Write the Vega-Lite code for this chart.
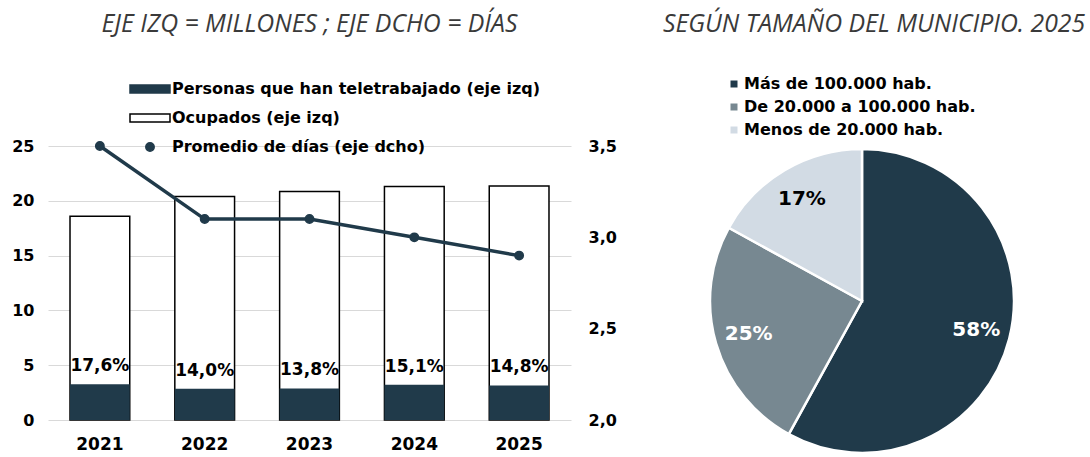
{
  "$schema": "https://vega.github.io/schema/vega-lite/v6.json",
  "background": "white",
  "padding": {"left": 11, "top": 12, "right": 0, "bottom": 0},
  "config": {
    "view": {"stroke": null},
    "font": "DejaVu Sans",
    "axis": {"labelFont": "DejaVu Sans", "labelFontWeight": "bold", "labelColor": "black"},
    "legend": {"labelFont": "DejaVu Sans", "labelFontWeight": "bold", "labelColor": "black"}
  },
  "datasets": {
    "anual": [
      {"year": "2021", "ocupados": 18.6, "teletrabajo": 3.27, "pct": "17,6%", "dias": 3.5},
      {"year": "2022", "ocupados": 20.4, "teletrabajo": 2.86, "pct": "14,0%", "dias": 3.1},
      {"year": "2023", "ocupados": 20.85, "teletrabajo": 2.88, "pct": "13,8%", "dias": 3.1},
      {"year": "2024", "ocupados": 21.3, "teletrabajo": 3.22, "pct": "15,1%", "dias": 3.0},
      {"year": "2025", "ocupados": 21.35, "teletrabajo": 3.15, "pct": "14,8%", "dias": 2.9}
    ],
    "municipio": [
      {"cat": "Más de 100.000 hab.", "pct": 58, "etiqueta": "58%", "orden": 1},
      {"cat": "De 20.000 a 100.000 hab.", "pct": 25, "etiqueta": "25%", "orden": 2},
      {"cat": "Menos de 20.000 hab.", "pct": 17, "etiqueta": "17%", "orden": 3}
    ]
  },
  "bounds": "flush",
  "spacing": 131,
  "resolve": {
    "scale": {"color": "independent", "stroke": "independent", "shape": "independent"},
    "legend": {"color": "independent", "stroke": "independent", "shape": "independent"}
  },
  "hconcat": [
    {
      "width": 523,
      "height": 274,
      "title": {"text": "EJE IZQ = MILLONES ; EJE DCHO = DÍAS", "font": "Open Sans", "fontStyle": "italic", "fontWeight": "normal", "fontSize": 24.8, "color": "#3a3a3a", "anchor": "middle", "offset": 41},
      "data": {"name": "anual"},
      "resolve": {"scale": {"y": "independent"}},
      "layer": [
        {
          "layer": [
            {
              "mark": {"type": "bar", "strokeWidth": 1.5},
              "encoding": {
                "x": {"field": "year", "type": "ordinal", "scale": {"paddingInner": 0.43, "paddingOuter": 0.21},
                      "axis": {"title": null, "ticks": false, "domain": false, "labelAngle": 0, "labelFontSize": 17, "labelPadding": 16, "grid": false}},
                "y": {"field": "ocupados", "type": "quantitative", "scale": {"domain": [0, 25], "nice": false},
                      "axis": {"title": null, "values": [0, 5, 10, 15, 20, 25], "grid": true, "gridColor": "#d9d9d9", "gridWidth": 1, "ticks": false, "domain": false, "labelFontSize": 16, "labelPadding": 14}},
                "color": {
                  "datum": "Ocupados (eje izq)",
                  "scale": {"domain": ["Personas que han teletrabajado (eje izq)", "Ocupados (eje izq)", "Promedio de días (eje dcho)"], "range": ["#203a4a", "white", "#203a4a"]},
                  "legend": {
                    "orient": "none", "legendX": 91, "legendY": -68, "title": null, "padding": 0,
                    "symbolSize": 400, "symbolStrokeWidth": 1.5, "labelFontSize": 16, "labelOffset": 11, "rowPadding": 10, "labelLimit": 600, "direction": "vertical"
                  }
                },
                "stroke": {
                  "datum": "Ocupados (eje izq)",
                  "scale": {"domain": ["Personas que han teletrabajado (eje izq)", "Ocupados (eje izq)", "Promedio de días (eje dcho)"], "range": ["#203a4a", "black", "#203a4a"]},
                  "legend": {
                    "orient": "none", "legendX": 91, "legendY": -68, "title": null, "padding": 0,
                    "symbolSize": 400, "symbolStrokeWidth": 1.5, "labelFontSize": 16, "labelOffset": 11, "rowPadding": 10, "labelLimit": 600, "direction": "vertical"
                  }
                }
              }
            },
            {
              "mark": {"type": "bar", "strokeWidth": 0},
              "encoding": {
                "x": {"field": "year", "type": "ordinal"},
                "y": {"field": "teletrabajo", "type": "quantitative", "scale": {"domain": [0, 25], "nice": false}},
                "color": {"datum": "Personas que han teletrabajado (eje izq)"},
                "stroke": {"datum": "Personas que han teletrabajado (eje izq)"}
              }
            },
            {
              "mark": {"type": "text", "dy": -18, "baseline": "middle", "fontSize": 17, "fontWeight": "bold", "font": "DejaVu Sans", "color": "black"},
              "encoding": {
                "x": {"field": "year", "type": "ordinal"},
                "y": {"field": "teletrabajo", "type": "quantitative", "scale": {"domain": [0, 25], "nice": false}},
                "text": {"field": "pct"}
              }
            }
          ]
        },
        {
          "encoding": {
            "x": {"field": "year", "type": "ordinal"},
            "y": {"field": "dias", "type": "quantitative", "scale": {"domain": [2, 3.5], "nice": false},
                  "axis": {"orient": "right", "title": null, "values": [2, 2.5, 3, 3.5], "labelExpr": "replace(format(datum.value, '.1f'), '.', ',')", "grid": false, "ticks": false, "domain": false, "labelFontSize": 16, "labelPadding": 17}}
          },
          "layer": [
            {
              "mark": {"type": "line", "strokeWidth": 3.5},
              "encoding": {"stroke": {"datum": "Promedio de días (eje dcho)"}}
            },
            {
              "mark": {"type": "point", "filled": true, "size": 400, "opacity": 1, "strokeWidth": 1.5},
              "encoding": {
                "color": {"datum": "Promedio de días (eje dcho)"},
                "stroke": {"datum": "Promedio de días (eje dcho)"},
                "shape": {
                  "datum": "Promedio de días (eje dcho)",
                  "scale": {"domain": ["Personas que han teletrabajado (eje izq)", "Ocupados (eje izq)", "Promedio de días (eje dcho)"], "range": ["M-2,-0.4H2V0.4H-2Z", "M-2,-0.4H2V0.4H-2Z", "M0.42,0A0.42,0.42,0,1,1,-0.42,0A0.42,0.42,0,1,1,0.42,0Z"]},
                  "legend": {
                    "orient": "none", "legendX": 91, "legendY": -68, "title": null, "padding": 0,
                    "symbolSize": 400, "symbolStrokeWidth": 1.5, "labelFontSize": 16, "labelOffset": 11, "rowPadding": 10, "labelLimit": 600, "direction": "vertical"
                  }
                }
              }
            }
          ]
        }
      ]
    },
    {
      "width": 320,
      "height": 310,
      "title": {"text": "SEGÚN TAMAÑO DEL MUNICIPIO. 2025", "font": "Open Sans", "fontStyle": "italic", "fontWeight": "normal", "fontSize": 24.8, "color": "#3a3a3a", "anchor": "middle", "dx": 12, "offset": 39},
      "data": {"name": "municipio"},
      "layer": [
        {
          "mark": {"type": "arc", "radius": 152, "stroke": "white", "strokeWidth": 2.5},
          "encoding": {
            "theta": {"field": "pct", "type": "quantitative", "stack": true},
            "order": {"field": "orden", "type": "quantitative"},
            "color": {
              "field": "cat", "type": "nominal",
              "scale": {"domain": ["Más de 100.000 hab.", "De 20.000 a 100.000 hab.", "Menos de 20.000 hab."], "range": ["#203a4a", "#778891", "#d2dbe4"]},
              "legend": {"orient": "none", "legendX": 24, "legendY": -70, "title": null, "padding": 0, "symbolType": "square", "symbolSize": 49, "symbolStrokeWidth": 0, "labelFontSize": 16, "labelOffset": 2, "rowPadding": 7, "labelLimit": 600, "direction": "vertical"}
            }
          }
        },
        {
          "mark": {"type": "text", "radius": 118, "font": "DejaVu Sans", "fontSize": 20, "fontWeight": "bold"},
          "encoding": {
            "theta": {"field": "pct", "type": "quantitative", "stack": true},
            "order": {"field": "orden", "type": "quantitative"},
            "text": {"field": "etiqueta"},
            "color": {"condition": {"test": "datum.orden === 3", "value": "black"}, "value": "white"}
          }
        }
      ]
    }
  ]
}
